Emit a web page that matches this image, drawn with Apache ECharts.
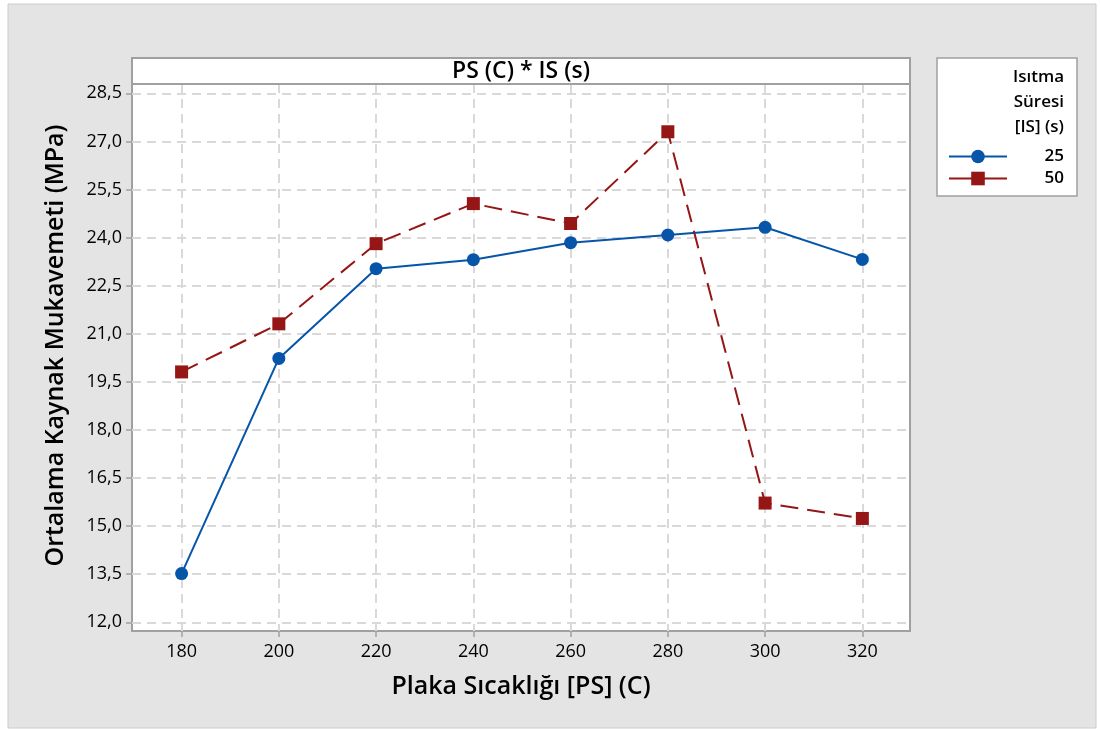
<!DOCTYPE html>
<html style="height: 100%">
<head>
	<meta charset="utf-8">
</head>
<body style="height: 100%; margin: 0; background: #fff">
<div id="container" style="width: 1101px; height: 731px"></div>
<script type="text/javascript" src="https://cdn.jsdelivr.net/npm/echarts@6/dist/echarts.min.js"></script>
<script type="text/javascript">
    var plakaSicakligi = [180, 200, 220, 240, 260, 280, 300, 320];
    var sure25 = [13.52, 20.23, 23.03, 23.31, 23.84, 24.08, 24.32, 23.32];
    var sure50 = [19.81, 21.31, 23.81, 25.06, 24.44, 27.30, 15.72, 15.24];
    var yTicks = [12.0, 13.5, 15.0, 16.5, 18.0, 19.5, 21.0, 22.5, 24.0, 25.5, 27.0, 28.5];
    var seriesNames = ['25', '50'];

    var dom = document.getElementById("container");
    var myChart = echarts.init(dom);
    var font = '"Open Sans", "Noto Sans", sans-serif';

    function pairs(vals) {
        var out = [];
        for (var i = 0; i < plakaSicakligi.length; i++) {
            out.push([plakaSicakligi[i], vals[i]]);
        }
        return out;
    }

    var gridDash = { color: '#d9d9d9', width: 2, type: [9, 6] };

    var option = {
        backgroundColor: '#ffffff',
        animation: false,
        grid: {
            left: 132, right: 191, top: 84, bottom: 100,
            show: true, backgroundColor: '#ffffff',
            borderColor: '#a0a0a0', borderWidth: 2
        },
        graphic: [
            {
                type: 'rect', z: -5,
                shape: { x: 8, y: 4, width: 1088, height: 724 },
                style: { fill: '#e4e4e4', stroke: '#cccccc', lineWidth: 1 }
            },
            {
                type: 'rect', z: 5,
                shape: { x: 132, y: 58, width: 778, height: 26 },
                style: { fill: '#ffffff', stroke: '#a0a0a0', lineWidth: 2 }
            },
            {
                type: 'text', z: 6,
                style: {
                    x: 521, y: 71, text: 'PS (C) * IS (s)',
                    align: 'center', verticalAlign: 'middle',
                    font: '600 23px ' + font, fill: '#000'
                }
            },
            {
                type: 'rect', z: 1,
                shape: { x: 937, y: 58, width: 140, height: 138 },
                style: { fill: '#ffffff', stroke: '#a0a0a0', lineWidth: 1.5 }
            },
            {
                type: 'text', z: 6,
                style: {
                    x: 1064, y: 65, text: 'Isıtma\nSüresi\n[IS] (s)',
                    align: 'right', lineHeight: 25,
                    font: '600 17px ' + font, fill: '#000'
                }
            }
        ],
        legend: {
            orient: 'vertical',
            z: 10,
            left: 943, top: 143,
            itemWidth: 58, itemHeight: 17, itemGap: 5,
            data: [
                { name: seriesNames[0] },
                { name: seriesNames[1], lineStyle: { type: 'solid' } }
            ],
            formatter: function (n) { return '{a|' + n + '}'; },
            textStyle: {
                fontFamily: font, fontSize: 17, color: '#000',
                rich: { a: { width: 52, align: 'right', fontSize: 17, fontWeight: 600, fontFamily: font } }
            }
        },
        xAxis: {
            type: 'value',
            min: 169.8, max: 329.8,
            name: 'Plaka Sıcaklığı [PS] (C)',
            nameLocation: 'middle', nameGap: 43,
            nameTextStyle: { fontFamily: font, fontSize: 25, fontWeight: 600, color: '#000' },
            axisLine: { show: false },
            axisTick: { show: true, length: 6, customValues: plakaSicakligi, lineStyle: { color: '#a0a0a0', width: 1.5 } },
            axisLabel: { customValues: plakaSicakligi, margin: 12, fontFamily: font, fontSize: 18, color: '#000' },
            splitLine: { show: true, lineStyle: gridDash }
        },
        yAxis: {
            type: 'value',
            min: 11.73, max: 28.79,
            name: 'Ortalama Kaynak Mukavemeti (MPa)',
            nameLocation: 'middle', nameGap: 64,
            nameTextStyle: { fontFamily: font, fontSize: 25, fontWeight: 600, color: '#000', padding: [0, 0, 0, 24] },
            axisLine: { show: false },
            axisTick: { show: true, length: 6, customValues: yTicks, lineStyle: { color: '#a0a0a0', width: 1.5 } },
            axisLabel: {
                customValues: yTicks, margin: 10, fontFamily: font, fontSize: 18, color: '#000',
                formatter: function (v) { return v.toFixed(1).replace('.', ','); }
            },
            splitLine: { show: true, lineStyle: gridDash }
        },
        series: [
            {
                name: seriesNames[0],
                type: 'line',
                data: pairs(sure25),
                symbol: 'circle', symbolSize: 13,
                itemStyle: { color: '#0655a8' },
                lineStyle: { color: '#0655a8', width: 2 }
            },
            {
                name: seriesNames[1],
                type: 'line',
                data: pairs(sure50),
                symbol: 'rect', symbolSize: 13,
                itemStyle: { color: '#961515' },
                lineStyle: { color: '#961515', width: 2, type: [18, 9] }
            }
        ]
    };

    myChart.setOption(option, true);
</script>
</body>
</html>
